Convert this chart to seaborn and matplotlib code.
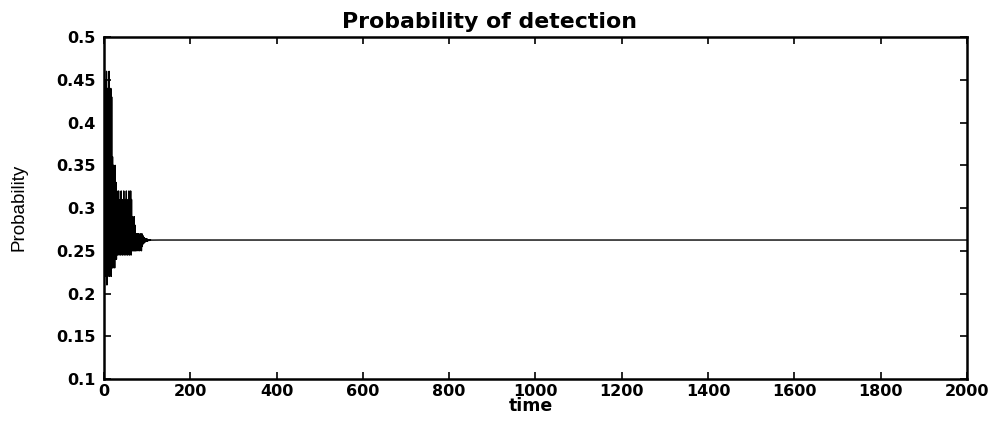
import matplotlib
matplotlib.use("Agg")
import matplotlib.pyplot as plt
import seaborn as sns
import pandas as pd

sns.set_style("ticks")
plt.rcParams['font.family'] = ['DejaVu Sans']
plt.rcParams['text.color'] = 'black'

# Transient part of the detection probability (time steps 0..109)
time_transient = list(range(0, 110))
prob_transient = [
    0.26, 0.21, 0.40, 0.22, 0.45, 0.23, 0.46, 0.21, 0.44, 0.22,
    0.42, 0.23, 0.46, 0.22, 0.43, 0.23, 0.44, 0.22, 0.43, 0.23,
    0.36, 0.23, 0.35, 0.24, 0.34, 0.23, 0.35, 0.24, 0.33, 0.24,
    0.32, 0.245, 0.31, 0.25, 0.32, 0.245, 0.30, 0.25, 0.31, 0.245,
    0.32, 0.25, 0.30, 0.245, 0.31, 0.25, 0.32, 0.245, 0.30, 0.25,
    0.31, 0.245, 0.32, 0.25, 0.29, 0.245, 0.31, 0.25, 0.32, 0.245,
    0.30, 0.25, 0.32, 0.245, 0.31, 0.25, 0.29, 0.25, 0.28, 0.25,
    0.29, 0.25, 0.28, 0.25, 0.27, 0.25, 0.27, 0.255, 0.27, 0.25,
    0.27, 0.255, 0.268, 0.25, 0.27, 0.255, 0.268, 0.25, 0.27, 0.255,
    0.268, 0.258, 0.266, 0.259, 0.265, 0.260, 0.264, 0.261, 0.264, 0.261,
    0.264, 0.261, 0.263, 0.262, 0.263, 0.262, 0.263, 0.2625, 0.263, 0.2625,
]
# Steady state
time_steady = [130, 2000]
prob_steady = [0.2626, 0.2626]

x_ticks = [0, 200, 400, 600, 800, 1000, 1200, 1400, 1600, 1800, 2000]
y_ticks = [0.1, 0.15, 0.2, 0.25, 0.3, 0.35, 0.4, 0.45, 0.5]
y_tick_labels = ["0.1", "0.15", "0.2", "0.25", "0.3", "0.35", "0.4", "0.45", "0.5"]

df = pd.DataFrame({
    "time": time_transient + time_steady,
    "prob": prob_transient + prob_steady,
})

fig = plt.figure(figsize=(9.99, 4.21), dpi=100)
ax = fig.add_axes([0.104, 0.0998, 0.864, 0.812])
sns.lineplot(data=df, x="time", y="prob", ax=ax, color="black", linewidth=1.0,
             estimator=None, sort=False)

ax.set_xlim(0, 2000)
ax.set_ylim(0.1, 0.5)
ax.set_xticks(x_ticks)
ax.set_xticklabels([str(v) for v in x_ticks])
ax.set_yticks(y_ticks)
ax.set_yticklabels(y_tick_labels)
ax.tick_params(direction="in", length=5, width=1.2, top=True, right=True,
               labelsize=11.5, colors="black")
ax.tick_params(axis="x", pad=3.5)
ax.tick_params(axis="y", pad=6)
for lab in ax.get_xticklabels() + ax.get_yticklabels():
    lab.set_fontweight("bold")
for sp in ax.spines.values():
    sp.set_visible(True)
    sp.set_linewidth(1.8)
    sp.set_color("black")

ax.set_xlabel("")
ax.set_ylabel("")
W, H = 999, 421
fig.text(490 / W, 1 - 28 / H, "Probability of detection", fontsize=15.8,
         fontweight="bold", ha="center", va="baseline", color="black")
fig.text(531 / W, 1 - 411 / H, "time", fontsize=12.5, fontweight="bold",
         ha="center", va="baseline", color="black")
fig.text(19 / W, 1 - 207 / H, "Probability", fontsize=13.5, rotation=90,
         family=["Liberation Sans"],
         ha="center", va="center", color="black")

fig.savefig("out.png", dpi=100, facecolor="white")
